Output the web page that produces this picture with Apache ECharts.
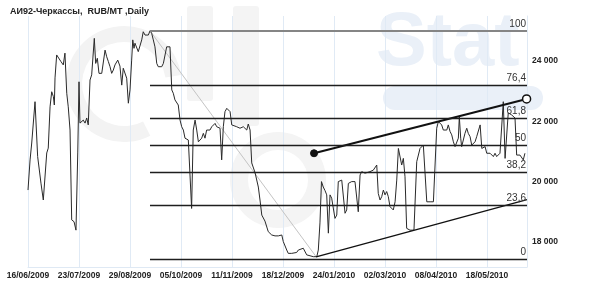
<!DOCTYPE html>
<html>
<head>
<meta charset="utf-8">
<script src="https://cdn.jsdelivr.net/npm/echarts@6/dist/echarts.min.js"></script>
<style>html,body{margin:0;padding:0;background:#fff}#c{width:590px;height:290px}</style>
</head>
<body>
<div id="c"></div>
<script>
// Calendar days since 16/06/2009
const dayOffsets = [
0,1.5,2.7,5.1,6.3,7.0,8.0,9.4,11.1,12.3,
13.6,14.7,16.0,17.2,18.4,19.1,19.6,20.8,22.0,23.9,
25.6,26.8,28.1,29.2,30.5,31.7,33.4,34.8,36.1,37.0,
37.7,39.0,40.1,41.4,42.6,43.7,45.0,46.2,47.4,48.1,
49.1,50.3,51.5,53.5,54.6,55.9,57.1,58.3,59.5,60.7,
61.9,63.1,65.1,66.7,68.0,69.1,70.4,71.6,72.8,74.0,
75.2,76.0,76.9,77.6,78.9,80.0,81.3,82.5,83.6,84.9,
86.1,87.3,88.5,89.7,90.9,92.1,93.4,94.5,95.8,97.0,
98.2,99.4,100.6,101.8,103.0,104.3,105.4,106.6,107.9,109.0,
110.3,111.5,112.7,113.9,115.1,116.3,117.5,118.7,119.9,121.2,
122.4,123.6,124.8,126.0,127.2,128.4,129.6,130.8,132.0,133.3,
134.4,135.7,136.9,138.1,139.3,140.5,141.7,142.9,144.2,146.6,
147.8,148.9,151.4,153.8,156.2,158.7,159.8,161.1,162.3,164.7,
165.9,167.1,168.3,169.6,170.7,171.9,173.2,174.3,175.6,176.8,
179.2,180.4,181.6,182.8,184.1,185.2,186.5,187.7,188.8,190.1,
191.3,192.5,194.9,196.1,197.3,199.7,201.0,202.2,204.6,207.0,
209.5,210.6,211.8,212.9,214.2,215.5,216.7,217.9,219.1,220.3,
221.5,222.7,224.0,225.1,226.4,227.6,228.7,230.0,231.2,232.4,
233.6,234.8,236.0,237.2,238.5,239.6,240.9,242.1,243.3,244.5,
245.7,248.1,250.5,253.0,254.1,255.4,256.6,257.8,259.0,260.2,
261.4,262.6,263.9,265.0,266.3,267.5,268.7,269.9,271.1,272.3,
273.5,274.7,277.1,278.4,280.0,282.0,283.2,284.4,285.6,286.8,
288.0,289.3,291.7,294.1,295.3,296.5,297.7,298.9,300.1,301.3,
302.5,303.8,304.9,306.2,307.4,308.6,309.8,311.0,312.2,312.9,
313.9,314.6,315.8,317.0,318.3,319.4,320.7,321.9,323.1,324.3,
325.5,326.7,328.0,329.2,330.4,331.6,332.8,334.0,335.2,336.4,
337.6,338.8,340.0,341.2,342.4,343.6,344.8,346.1,347.3,348.4,
350.9,353.3,354.5,356.9,358.2,359.3,360.5
];
// RUB/MT
const prices = [
19720,20720,21280,22650,22650,20830,20780,19950,19390,19390,
20950,21110,22480,22980,22820,22540,23440,24200,24140,23980,
23870,24260,22930,22480,21710,18730,18670,18390,20950,23310,
21940,21990,22040,21940,22110,21880,23370,23540,23600,24750,
23920,24090,23590,23590,23590,24360,24140,23980,23810,23590,
23700,23870,24030,23830,23200,23760,23700,23430,22600,23040,
24030,24700,24420,24590,24590,24310,24310,24700,24970,24860,
24920,24860,25000,24920,24700,24470,23920,23810,23870,23810,
23920,23980,24470,24530,24470,23040,22930,22710,22650,22540,
22040,21820,21710,21440,21440,21380,21380,19110,21710,22040,
21710,21320,21320,21440,21600,21440,21710,21770,21710,21820,
21770,21930,21820,21880,21770,20720,21820,22320,22430,22320,
21880,21820,21820,21770,21820,21710,21910,21710,20620,20300,
20280,19820,19390,18890,18840,18690,18660,18340,18290,18230,
18200,18170,18200,18230,18230,18010,17950,17730,17620,17570,
17620,17570,17650,17730,17790,17790,17730,17570,17540,17510,
17510,17730,18630,20000,19820,19700,19560,18290,19560,19450,
19500,18780,18890,20000,19940,20050,20000,18950,19060,19940,
19940,20000,19940,20000,20050,19000,20220,20330,20380,20280,
20330,20330,20380,20550,19610,19390,19500,19720,19560,19670,
19500,19170,19110,19060,19330,20050,21100,21100,20550,20770,
20160,18450,18390,18430,18390,20660,20660,21100,21160,21210,
21160,19330,19330,19330,19330,21770,21990,22040,21880,21710,
21770,21710,21880,21660,21550,21320,21160,21210,21440,22150,
21440,21160,21380,21600,21770,21600,21490,21210,21160,21320,
21490,21440,21880,21100,21050,21160,20940,20880,20940,20880,
20830,20940,20830,20880,20940,20990,22650,20770,20720,22280,
22210,22110,20880,20880,20830,20720,20940
];
const dateLabels = ['16/06/2009','23/07/2009','29/08/2009','05/10/2009','11/11/2009',
  '18/12/2009','24/01/2010','02/03/2010','08/04/2010','18/05/2010'];
const priceTicks = [18000, 20000, 22000, 24000];

// Fibonacci retracement
const fibHigh = 25000, fibLow = 17420;
const fibStartDay = 88.5, fibEndDay = 362;
const fibRatios = [100, 76.4, 61.8, 50, 38.2, 23.6, 0];
const fibLabels = ['100', '76,4', '61,8', '50', '38,2', '23,6', '0'];

// Trend lines [day, price]
const swingLine = [[88.5, 25000], [209.0, 17510]];
const upperTrend = [[207.5, 20940], [361.7, 22740]];
const lowerTrend = [[209.0, 17500], [362.0, 19400]];

const FONT = '"Liberation Sans", Arial, sans-serif';

const fibMarkData = fibRatios.map((r, i) => {
  const v = fibLow + (fibHigh - fibLow) * r / 100;
  return [
    { coord: [fibStartDay, v], lineStyle: { color: i === 0 ? '#858585' : '#1e1e1e', width: i === 0 ? 2 : 1.3 } },
    { coord: [fibEndDay, v], label: { formatter: fibLabels[i] } }
  ];
});

const chart = echarts.init(document.getElementById('c'), null, { renderer: 'canvas' });
chart.setOption({
  animation: false,
  backgroundColor: '#ffffff',
  title: {
    text: 'АИ92-Черкассы,  RUB/MT ,Daily',
    left: 5, top: 2,
    textStyle: { fontFamily: FONT, fontSize: 9, fontWeight: 'bold', color: '#222' }
  },
  graphic: [
    { type: 'sector', z: -10, shape: { cx: 124, cy: 84, r: 58, r0: 42, startAngle: Math.PI * 0.35, endAngle: Math.PI * 1.95 },
      style: { fill: '#f3f3f3' } },
    { type: 'rect', z: -10, shape: { x: 187, y: 6, width: 26, height: 95, r: 3 }, style: { fill: '#f4f4f4' } },
    { type: 'rect', z: -10, shape: { x: 233, y: 6, width: 26, height: 120, r: 3 }, style: { fill: '#f4f4f4' } },
    { type: 'sector', z: -10, shape: { cx: 278, cy: 180, r: 48, r0: 30, startAngle: 0, endAngle: Math.PI * 2 },
      style: { fill: '#f4f4f4' } },
    { type: 'text', z: -10, left: 376, top: 6,
      style: { text: 'Stat', font: 'bold 76px "Liberation Sans", Arial, sans-serif', fill: '#eaf0f8' } },
    { type: 'rect', z: -10, shape: { x: 383, y: 86, width: 160, height: 24, r: 12 }, style: { fill: '#eaf0f8' } }
  ],
  grid: { left: 28, right: 63, top: 16, bottom: 23, containLabel: false },
  xAxis: {
    type: 'value', min: 0, max: 362, interval: 37,
    axisLine: { show: true, onZero: false, lineStyle: { color: '#dfe9f4' } },
    axisTick: { show: false },
    minorTick: { show: false },
    splitLine: { show: true, lineStyle: { color: '#e0eaf5', width: 1 } },
    axisLabel: {
      margin: 4, fontFamily: FONT, fontSize: 8.5, fontWeight: 'bold', color: '#222',
      showMaxLabel: false,
      formatter: v => { const k = Math.round(v / 37); return (Math.abs(v - k * 37) < 0.01 && dateLabels[k]) ? dateLabels[k] : ''; }
    }
  },
  yAxis: {
    type: 'value', position: 'right', min: 17168, max: 25492, splitNumber: 4,
    axisLine: { show: true, onZero: false, lineStyle: { color: '#dfe9f4' } },
    axisTick: { show: false },
    minorTick: { show: false },
    splitLine: { show: false },
    splitArea: { show: false },
    axisLabel: {
      margin: 5, showMinLabel: false, showMaxLabel: false,
      fontFamily: FONT, fontSize: 8.5, fontWeight: 'bold', color: '#222',
      formatter: v => priceTicks.indexOf(v) >= 0 ? String(v).replace(/\B(?=(\d{3})+(?!\d))/g, ' ') : ''
    }
  },
  series: [
    {
      name: 'fib', type: 'line', data: [], silent: true,
      markLine: {
        silent: true, symbol: ['none', 'none'], animation: false,
        label: { show: true, position: 'insideEndTop', distance: [1, 2], fontFamily: FONT, fontSize: 10, color: '#333' },
        lineStyle: { type: 'solid' },
        data: fibMarkData
      }
    },
    {
      name: 'swing', type: 'line', data: swingLine, symbol: 'none', silent: true,
      lineStyle: { color: '#c4c4c4', width: 1 }
    },
    {
      name: 'price', type: 'line', data: dayOffsets.map((d, i) => [d, prices[i]]),
      symbol: 'none', silent: true, z: 3,
      lineStyle: { color: '#2a2a2a', width: 1 }
    },
    {
      name: 'upper', type: 'line', silent: true, z: 4,
      lineStyle: { color: '#111', width: 2 },
      symbol: 'circle', showSymbol: true,
      symbolSize: (v, p) => p.dataIndex === 0 ? 7 : 8,
      data: upperTrend.map((p, i) => i === 0
        ? { value: p, itemStyle: { color: '#111', borderColor: '#111' } }
        : { value: p, itemStyle: { color: '#fff', borderColor: '#111', borderWidth: 1.5 } })
    },
    {
      name: 'lower', type: 'line', data: lowerTrend, symbol: 'none', silent: true, z: 4,
      lineStyle: { color: '#111', width: 1.3 }
    }
  ]
});
</script>
</body>
</html>
